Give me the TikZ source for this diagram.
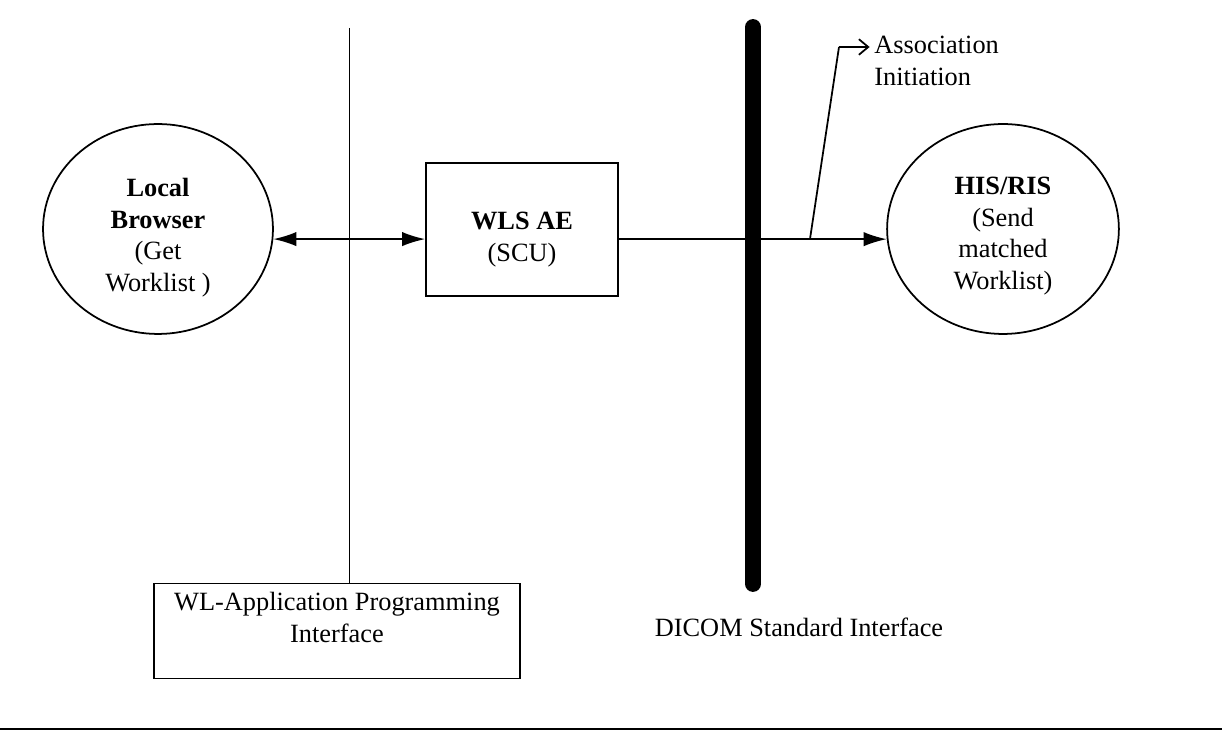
\documentclass[tikz,border=0pt]{standalone}
\usepackage{fontspec}
\setmainfont{Liberation Serif}
\usetikzlibrary{positioning, calc, shapes.geometric, arrows.meta}

% text block moved down inside its shape, size kept
\newcommand{\lowered}[2]{\raisebox{-#1}[\height][\depth]{\begin{tabular}{@{}c@{}}#2\end{tabular}}}

\begin{document}
\begin{tikzpicture}[x=0.016cm, y=-0.016cm, font=\fontsize{12}{14.4}\selectfont,
        oval/.style={ellipse, draw, line width=0.8pt, inner sep=0pt},
        box/.style={rectangle, draw, line width=0.8pt, align=center},
        conn/.style={line width=0.8pt, -{Latex[length=0.37cm, width=0.23cm]}}]
        \useasboundingbox (0,0) rectangle (1222,731);

        % Nodes
        \node[oval, minimum width=3.68cm, minimum height=3.36cm] (LB) at (158,229) {\lowered{4pt}{\textbf{Local}\\\textbf{Browser}\\(Get\\Worklist )}};
        \node[box, minimum width=3.07cm, minimum height=2.13cm] (WLS) at (522,229.5) {\lowered{4.5pt}{\textbf{WLS AE}\\(SCU)}};
        \node[oval, minimum width=3.71cm, minimum height=3.36cm] (HIS) at (1003,229) {\lowered{3pt}{\textbf{HIS/RIS}\\(Send\\matched\\Worklist)}};
        \node[box, minimum width=5.86cm, minimum height=1.52cm] (API) at (337,631) {};
        \node[below=1pt of API.north, align=center] (APItext) {WL-Application Programming\\Interface};
        \node (DICOM) at (799,627) {DICOM Standard Interface};
        \node[anchor=north west, align=left, inner sep=0pt] (AI) at (874,36) {Association\\Initiation};

        % Interfaces
        \coordinate (T) at (349,28);
        \draw[line width=0.4pt] (T) -- (T |- API.north);
        \coordinate (D1) at (753,27);
        \coordinate (D2) at (753,584);
        \draw[line width=7.2pt, line cap=round] (D1) -- (D2);

        % Edges
        \draw[conn, {Latex[length=0.37cm, width=0.23cm]}-{Latex[length=0.37cm, width=0.23cm]}] (LB.-5) -- (LB.-5 -| WLS.west);
        \draw[conn] (HIS.185 -| WLS.east) -- (HIS.185);

        % Association callout
        \coordinate (tap) at (810,239);
        \coordinate (bend) at (839,47);
        \draw[line width=0.8pt] (tap) -- (bend);
        \draw[line width=0.8pt, -{Straight Barb[length=0.15cm, width=0.25cm]}] (bend) -- ([xshift=-2pt]bend -| AI.west);

        % Bottom rule
        \draw[line width=1.2pt] (0,729) -- (1222,729);
\end{tikzpicture}
\end{document}
